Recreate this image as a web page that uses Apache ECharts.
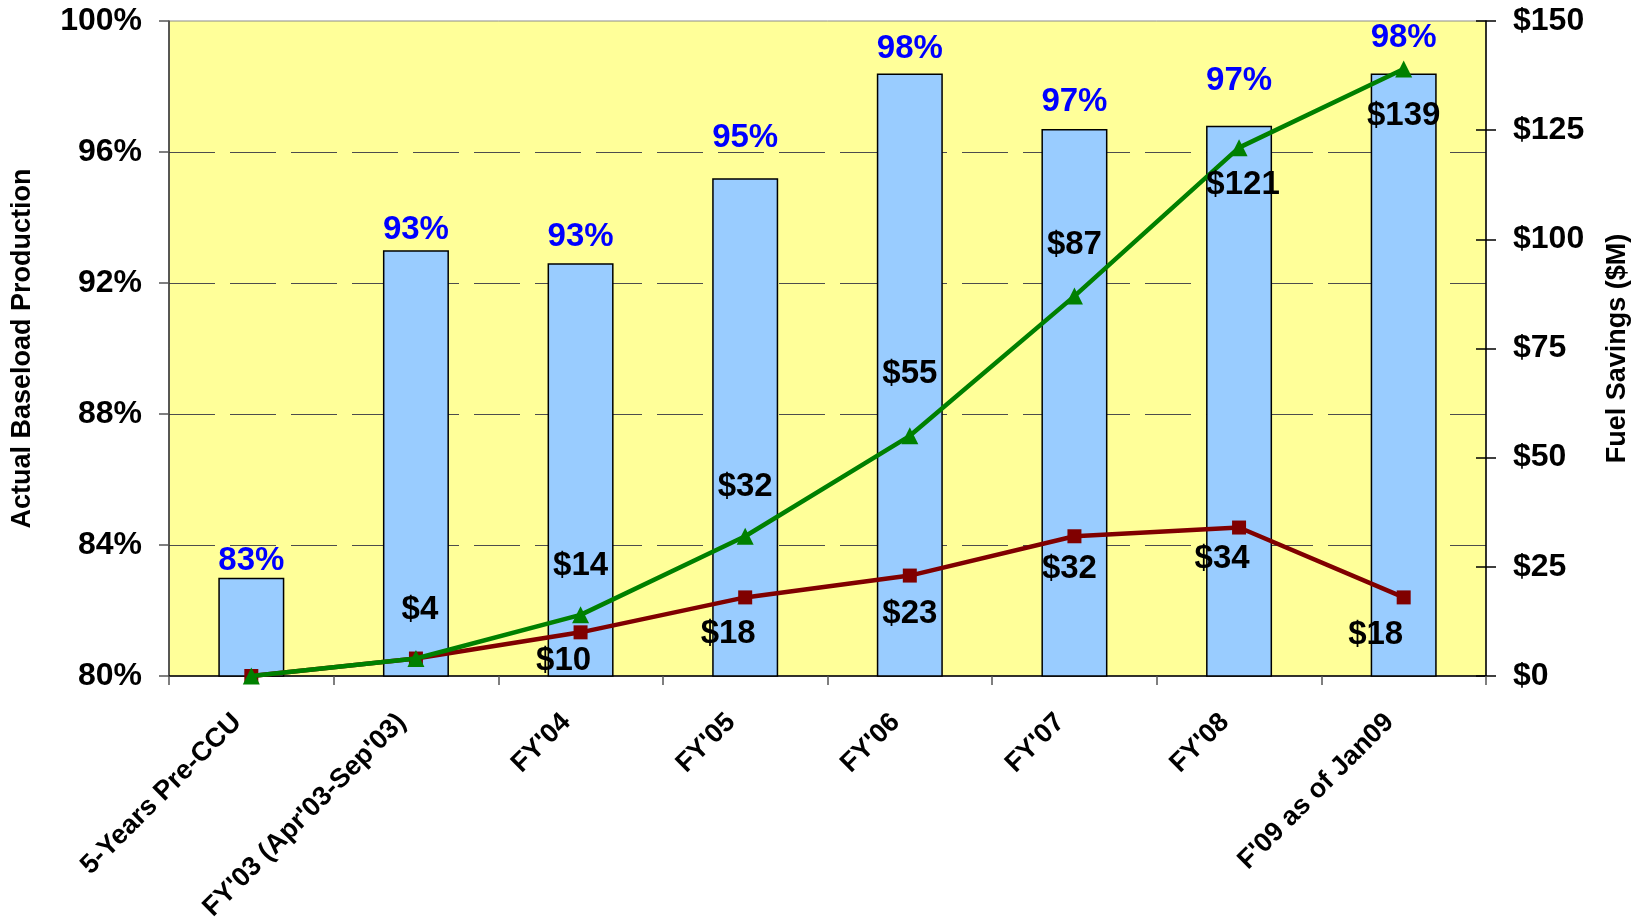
<!DOCTYPE html>
<html>
<head>
<meta charset="utf-8">
<script src="https://cdn.jsdelivr.net/npm/echarts@6/dist/echarts.min.js"></script>
<style>
  html, body { margin: 0; padding: 0; background: #ffffff; }
  #chart { width: 1638px; height: 918px; }
</style>
</head>
<body>
<div id="chart"></div>
<script>
// Period labels along the bottom axis
const categories = [
  '5-Years Pre-CCU',
  "FY'03 (Apr'03-Sep'03)",
  "FY'04",
  "FY'05",
  "FY'06",
  "FY'07",
  "FY'08",
  "F'09 as of Jan09"
];

// Actual baseload production, percent (left axis)
const baseloadPct = [83.0, 93.0, 92.6, 95.2, 98.4, 96.7, 96.8, 98.4];

// Fuel savings per period and running total, $M (right axis)
const annualSavings = [0, 4, 10, 18, 23, 32, 34, 18];
const cumulativeSavings = [0, 4, 14, 32, 55, 87, 121, 139];

// Tick settings for both value axes
const leftTicks = { min: 80, max: 100, interval: 4 };
const rightTicks = { min: 0, max: 150, interval: 25 };

// Label placement tweaks (pixel offsets from each point / bar top)
const barLabelGap = [0, 4, 10, 24, 8, 11, 28, 19];
const cumLabelOffset = [null, [4, -49], [0, -49], [0, -49], [0, -62], [0, -51], [4, 37], [0, 47]];
const annualLabelOffset = [null, null, [-17, 29], [-17, 37], [0, 38], [-5, 33], [-17, 31], [-28, 38]];

const FONT = '"Liberation Sans", Arial, sans-serif';

const labelText = {
  fontFamily: FONT,
  fontWeight: 'bold',
  fontSize: 33,
  lineHeight: 33,
  color: '#000000'
};

const barData = baseloadPct.map((v, i) => ({
  value: v,
  label: { distance: barLabelGap[i] }
}));

function lineData(values, offsets) {
  return values.map((v, i) => {
    const off = offsets[i];
    if (!off) return { value: v, label: { show: false } };
    return { value: v, label: { show: true, position: 'inside', offset: off } };
  });
}

const chart = echarts.init(document.getElementById('chart'), null, { renderer: 'canvas' });

const option = {
  backgroundColor: '#ffffff',
  animation: false,
  grid: {
    left: 169,
    right: 152,
    top: 21,
    bottom: 242,
    containLabel: false,
    outerBoundsMode: 'none',
    show: true,
    backgroundColor: '#FFFF99',
    borderColor: '#8c8c8c',
    borderWidth: 1
  },
  xAxis: {
    type: 'category',
    data: categories,
    boundaryGap: true,
    axisLine: { show: true, lineStyle: { color: '#000000', width: 1.5 } },
    axisTick: { show: true, alignWithLabel: false, length: 9, lineStyle: { color: '#555555', width: 1.5 } },
    axisLabel: {
      interval: 0,
      rotate: 45,
      margin: 28,
      padding: [0, 20, 0, 0],
      fontFamily: FONT,
      fontWeight: 'bold',
      fontSize: 27,
      color: '#000000'
    },
    splitLine: { show: false }
  },
  yAxis: [
    {
      type: 'value',
      position: 'left',
      min: leftTicks.min,
      max: leftTicks.max,
      interval: leftTicks.interval,
      name: 'Actual Baseload Production',
      nameLocation: 'middle',
      nameRotate: 90,
      nameGap: 133,
      nameTextStyle: { fontFamily: FONT, fontWeight: 'bold', fontSize: 27, color: '#000000' },
      axisLine: { show: true, lineStyle: { color: '#333333', width: 1.5 } },
      axisTick: { show: true, inside: false, length: 10, lineStyle: { color: '#555555', width: 1.5 } },
      axisLabel: {
        margin: 27,
        formatter: '{value}%',
        fontFamily: FONT,
        fontWeight: 'bold',
        fontSize: 32,
        color: '#000000'
      },
      splitLine: {
        show: true,
        showMinLine: false,
        showMaxLine: false,
        lineStyle: { color: '#4d4d4d', width: 1, type: [46, 15] }
      }
    },
    {
      type: 'value',
      position: 'right',
      min: rightTicks.min,
      max: rightTicks.max,
      interval: rightTicks.interval,
      name: 'Fuel Savings ($M)',
      nameLocation: 'middle',
      nameRotate: 90,
      nameGap: 118,
      nameTextStyle: { fontFamily: FONT, fontWeight: 'bold', fontSize: 27, color: '#000000' },
      axisLine: { show: true, lineStyle: { color: '#000000', width: 1.5 } },
      axisTick: { show: true, inside: false, length: 10, lineStyle: { color: '#000000', width: 1.5 } },
      axisLabel: {
        margin: 27,
        formatter: '${value}',
        fontFamily: FONT,
        fontWeight: 'bold',
        fontSize: 32,
        color: '#000000'
      },
      splitLine: { show: false }
    },
    {
      // inner half of the right-hand tick marks
      type: 'value',
      position: 'right',
      min: rightTicks.min,
      max: rightTicks.max,
      interval: rightTicks.interval,
      axisLine: { show: false },
      axisTick: { show: true, inside: true, length: 10, lineStyle: { color: '#000000', width: 1.5 } },
      axisLabel: { show: false },
      splitLine: { show: false }
    }
  ],
  series: [
    {
      name: 'Actual Baseload Production',
      type: 'bar',
      yAxisIndex: 0,
      barWidth: 66,
      data: barData,
      itemStyle: { color: '#99CCFF', borderColor: '#000000', borderWidth: 1.5 },
      label: {
        show: true,
        position: 'top',
        formatter: p => Math.round(p.value) + '%',
        fontFamily: FONT,
        fontWeight: 'bold',
        fontSize: 33,
        lineHeight: 33,
        color: '#0000FF'
      },
      z: 2
    },
    {
      name: 'Annual Fuel Savings',
      type: 'line',
      yAxisIndex: 1,
      data: lineData(annualSavings, annualLabelOffset),
      lineStyle: { color: '#800000', width: 4.5 },
      itemStyle: { color: '#800000' },
      symbol: 'rect',
      symbolSize: 14,
      showAllSymbol: true,
      label: Object.assign({ formatter: p => '$' + p.value }, labelText),
      z: 3
    },
    {
      name: 'Cumulative Fuel Savings',
      type: 'line',
      yAxisIndex: 1,
      data: lineData(cumulativeSavings, cumLabelOffset),
      lineStyle: { color: '#008000', width: 4.5 },
      itemStyle: { color: '#008000' },
      symbol: 'triangle',
      symbolSize: 17,
      showAllSymbol: true,
      label: Object.assign({ formatter: p => '$' + p.value }, labelText),
      z: 4
    }
  ]
};

chart.setOption(option);
</script>
</body>
</html>
